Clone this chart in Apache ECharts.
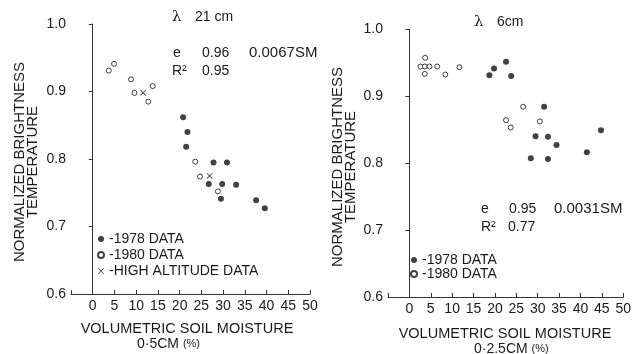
<!DOCTYPE html>
<html>
<head>
<meta charset="utf-8">
<script src="https://cdn.jsdelivr.net/npm/echarts@6/dist/echarts.min.js"></script>
<style>
  html, body { margin: 0; padding: 0; background: #fff; }
  #chart { width: 634px; height: 354px; }
</style>
</head>
<body>
<div id="chart"></div>
<script>
// Soil moisture (%) vs normalized brightness temperature, two wavelengths.

// 21 cm panel, 0-5 cm moisture
const left1978 = [[20.8,0.862],[21.8,0.840],[21.5,0.818],[27.8,0.795],[30.9,0.795],[26.7,0.763],[29.8,0.763],[33.0,0.762],[29.5,0.741],[37.6,0.739],[39.6,0.727]];
const left1980 = [[3.7,0.931],[4.9,0.941],[8.8,0.918],[9.6,0.898],[13.8,0.908],[12.8,0.885],[23.6,0.796],[24.7,0.774],[28.8,0.752]];
const leftHigh = [[11.6,0.898],[26.9,0.775]];

// 6 cm panel, 0-2.5 cm moisture
const right1978 = [[18.7,0.931],[19.8,0.941],[22.6,0.951],[23.8,0.930],[31.5,0.884],[44.8,0.849],[29.5,0.840],[32.4,0.839],[34.4,0.827],[41.5,0.816],[28.4,0.807],[32.4,0.806]];
const right1980 = [[3.7,0.957],[2.6,0.944],[3.6,0.944],[4.7,0.944],[6.5,0.944],[3.6,0.933],[8.4,0.932],[11.7,0.943],[26.6,0.884],[22.6,0.864],[23.7,0.853],[30.5,0.862]];

// axis ranges and ticks
const xMin = -5, xMax = 50, xStep = 5;
const yMin = 0.6, yMax = 1.0, yStep = 0.1;

// text
const seriesNames = ['1978 DATA', '1980 DATA', 'HIGH ALTITUDE DATA'];
const yTitle = 'NORMALIZED BRIGHTNESS\nTEMPERATURE';
const xTitle = 'VOLUMETRIC SOIL MOISTURE';
const leftDepth = '0·5CM';
const rightDepth = '0·2.5CM';
const leftHead = ['λ', '21 cm'];
const rightHead = ['λ', '6cm'];
const leftFit = ['e', '0.96', '0.0067SM'];
const leftR2 = ['R²', '0.95'];
const rightFit = ['e', '0.95', '0.0031SM'];
const rightR2 = ['R²', '0.77'];

const FONT = '"Liberation Sans", Arial, sans-serif';
const INK = '#1a1a1a';
const AXIS = '#333';

function xAxisFor(gi) {
  return {
    type: 'value', gridIndex: gi, min: xMin, max: xMax, interval: xStep,
    axisLine: { show: true, lineStyle: { color: AXIS, width: 1 } },
    axisTick: { show: true, inside: true, length: 4, lineStyle: { color: AXIS } },
    axisLabel: {
      color: INK, fontSize: 14, fontFamily: FONT, margin: 5,
      formatter: v => (v < 0 ? '' : String(v))
    },
    splitLine: { show: false }
  };
}
function yAxisFor(gi) {
  return {
    type: 'value', gridIndex: gi, min: yMin, max: yMax, interval: yStep,
    axisLine: { show: true, lineStyle: { color: AXIS, width: 1 } },
    axisTick: { show: true, length: 4, lineStyle: { color: AXIS } },
    axisLabel: {
      color: INK, fontSize: 14, fontFamily: FONT, margin: 5,
      formatter: v => v.toFixed(1)
    },
    splitLine: { show: false }
  };
}

const filled = { symbol: 'circle', symbolSize: 6, itemStyle: { color: '#111' } };
const hollow = { symbol: 'circle', symbolSize: 5, itemStyle: { color: '#fff', borderColor: '#111', borderWidth: 1 } };
const cross = {
  symbol: 'path://M0,1 L1,0 L5,4 L9,0 L10,1 L6,5 L10,9 L9,10 L5,6 L1,10 L0,9 L4,5 Z',
  symbolSize: 6, itemStyle: { color: '#111' }
};

function scatter(name, data, gi, style) {
  return Object.assign({
    type: 'scatter', name: name, data: data,
    xAxisIndex: gi, yAxisIndex: gi, z: 3
  }, style);
}

function txt(s, x, y, extra) {
  return {
    type: 'text', x: x, y: y, silent: true,
    style: Object.assign({
      text: s, fill: INK, font: '14px ' + FONT,
      align: 'left', verticalAlign: 'middle'
    }, extra || {})
  };
}
function rotTitle(x, y) {
  return {
    type: 'text', x: x, y: y, rotation: Math.PI / 2, silent: true,
    style: {
      text: yTitle, fill: INK, font: '15px ' + FONT, lineHeight: 13,
      align: 'center', verticalAlign: 'middle'
    }
  };
}
function depthLabel(s, x, y) {
  return {
    type: 'text', x: x, y: y, silent: true,
    style: {
      text: '{a|' + s + ' }{b|(%)}', fill: INK,
      align: 'left', verticalAlign: 'middle',
      rich: {
        a: { fontSize: 14, fontFamily: FONT, fill: INK },
        b: { fontSize: 11, fontFamily: FONT, fill: INK }
      }
    }
  };
}

const legendBase = {
  orient: 'vertical', itemWidth: 6, itemHeight: 6, itemGap: 0,
  selectedMode: false,
  formatter: n => '-' + n,
  textStyle: { color: INK, fontSize: 14, fontFamily: FONT }
};

const option = {
  animation: false,
  backgroundColor: '#fff',
  grid: [
    { left: 71, top: 24, width: 239, height: 270 },
    { left: 388, top: 29, width: 237, height: 268 }
  ],
  xAxis: [xAxisFor(0), xAxisFor(1)],
  yAxis: [yAxisFor(0), yAxisFor(1)],
  legend: [
    Object.assign({}, legendBase, {
      left: 92, top: 226, data: seriesNames,
      textStyle: Object.assign({}, legendBase.textStyle, { lineHeight: 16 })
    }),
    Object.assign({}, legendBase, {
      left: 405, top: 248, data: seriesNames.slice(0, 2),
      textStyle: Object.assign({}, legendBase.textStyle, { lineHeight: 14 })
    })
  ],
  series: [
    scatter(seriesNames[0], left1978, 0, filled),
    scatter(seriesNames[1], left1980, 0, hollow),
    scatter(seriesNames[2], leftHigh, 0, cross),
    scatter(seriesNames[0], right1978, 1, filled),
    scatter(seriesNames[1], right1980, 1, hollow)
  ],
  graphic: [
    // panel headings
    txt(leftHead[0], 172, 17, { font: '15px "DejaVu Serif", serif' }),
    txt(leftHead[1], 195, 17),
    txt(rightHead[0], 474, 22, { font: '15px "DejaVu Serif", serif' }),
    txt(rightHead[1], 497, 22),
    // regression notes
    txt(leftFit[0], 173, 53), txt(leftFit[1], 202, 53), txt(leftFit[2], 249, 53, { font: '15px ' + FONT }),
    txt(leftR2[0], 172, 71), txt(leftR2[1], 202, 71),
    txt(rightFit[0], 481, 209), txt(rightFit[1], 509, 209), txt(rightFit[2], 554, 209, { font: '15px ' + FONT }),
    txt(rightR2[0], 481, 227), txt(rightR2[1], 508, 227),
    // axis titles
    rotTitle(26, 162),
    rotTitle(344, 167),
    txt(xTitle, 187, 329, { align: 'center', font: '14.5px ' + FONT }),
    depthLabel(leftDepth, 137, 344),
    txt(xTitle, 505, 334, { align: 'center', font: '14.5px ' + FONT }),
    depthLabel(rightDepth, 474, 349)
  ]
};

const chart = echarts.init(document.getElementById('chart'), null, { renderer: 'canvas' });
chart.setOption(option);
</script>
</body>
</html>
